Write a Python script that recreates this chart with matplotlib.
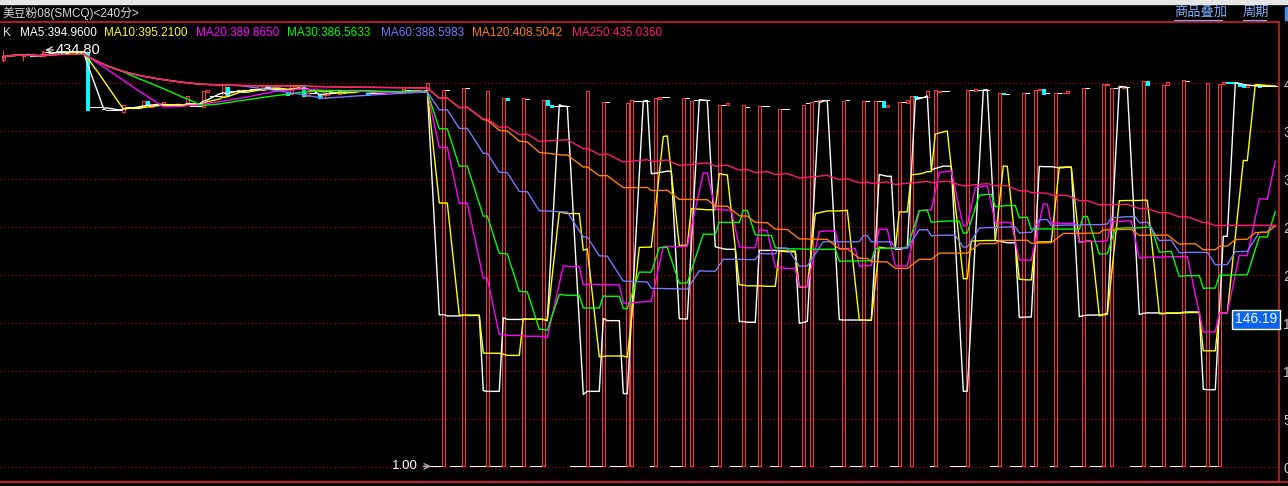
import numpy as np
import pandas as pd
import matplotlib
matplotlib.use("Agg")
import matplotlib.pyplot as plt
from matplotlib.patches import Rectangle
from matplotlib.lines import Line2D

plt.rcParams['font.family'] = ['Liberation Sans', 'Noto Sans CJK SC', 'DejaVu Sans']

# 240-minute bars (1.0 = the bad "1.00" prints)
opens = [
    424.3, 429, 430, 430, 431, 428, 430.5, 428, 428, 428,
    428.5, 433, 432.5, 433, 433, 432.5, 433, 433, 432.5, 433,
    433, 433, 375.5, 375.5, 375.5, 373, 372, 372, 372, 372,
    370.5, 375, 375, 375, 375, 376, 382, 375, 377, 377,
    378, 377, 377, 377, 377, 377, 379, 376, 376, 376,
    375.6, 391, 386.5, 386.5, 386.5, 386, 396, 392, 392, 392,
    393, 393, 394, 394, 394, 393, 398, 394, 394, 394,
    394, 391, 389, 398, 398, 398, 387, 390, 390, 389,
    385, 388, 391, 391, 389, 393, 391, 391, 393, 393,
    393, 390, 390, 390, 390, 389, 391, 391, 391, 391,
    390, 393, 391, 391, 391, 391, 393,
    1, 1, 1, 1, 392.7, 1, 1, 1, 1, 394.8,
    1, 1, 1, 1, 1, 1, 1, 1, 1, 384.7,
    1, 1, 1, 1, 384, 1, 1, 1, 1, 382.6,
    377.7, 376, 376, 376, 376, 1, 1, 1, 1, 1,
    1, 1, 1, 1, 380.5, 1, 1, 1, 1, 1,
    1, 382, 382, 382, 382, 1, 1, 384, 385.4, 385.4,
    1, 1, 1, 1, 384.7, 1, 382.3, 382.3, 382.3, 382.3,
    1, 1, 1, 377, 377, 1, 1, 1, 1, 375.6,
    1, 1, 1, 376, 376, 1, 1, 1, 373.6, 373.6,
    1, 1, 1, 1, 379.5, 1, 381.2, 381, 383, 383,
    1, 1, 1, 1, 383, 1, 1, 1, 1, 381.2,
    1, 1, 381.2, 381.2, 375.6, 1, 1, 1, 380.5, 379.5,
    1, 386.4, 385.7, 385.7, 385.7, 1, 1, 391.2, 391.6, 391.6,
    1, 1, 1, 1, 1, 392.7, 391.6, 393.3, 393.3, 393.3,
    1, 1, 1, 390, 389, 1, 1, 1, 1, 390,
    1, 1, 393, 393.7, 389.5, 1, 1, 390, 389.8, 390,
    1, 1, 1, 1, 395, 1, 1, 1, 1, 398.4,
    1, 395, 395.8, 395.5, 395.8, 1, 1, 1, 1, 402.7,
    1, 1, 1, 1, 398.3, 1, 1, 1, 1, 402.7,
    1, 1, 1, 1, 1, 1, 1, 1, 399.3, 401.5,
    401.3, 401, 400, 399, 396, 397.9, 397.9, 397.9, 397, 397,
    397, 397,
]
closes = [
    427.7, 429, 430, 430, 430, 428.5, 429.5, 428, 428, 428,
    433, 433, 432.5, 433, 433, 432.5, 433, 433, 432.5, 433,
    433, 372, 375.5, 375.5, 375.5, 373, 372, 372, 372, 372,
    377.5, 375, 375, 375, 375, 382, 378, 377, 377, 377,
    381, 377, 377, 377, 377, 377, 386.7, 376, 376, 376,
    392.3, 393, 386.5, 386.5, 386.5, 398, 388, 392, 392, 392,
    393, 393, 394, 394, 394, 398, 395, 394, 394, 394,
    394, 388, 398, 398, 398, 387, 390, 390, 390, 385,
    388, 393, 391, 391, 393, 390, 391, 391, 393, 393,
    393, 388, 390, 390, 390, 392, 391, 391, 391, 391,
    394, 393, 391, 391, 391, 391, 400,
    1, 1, 1, 393, 392.7, 1, 1, 1, 395, 394.8,
    1, 1, 1, 1, 391.6, 1, 1, 1, 384.7, 382.6,
    1, 1, 1, 384.7, 384, 1, 1, 1, 383, 377.7,
    375.6, 376, 376, 376, 376, 1, 1, 1, 1, 391.6,
    1, 1, 1, 380.5, 380.5, 1, 1, 1, 1, 379.5,
    382.3, 382, 382, 382, 382, 1, 384.7, 385.7, 385.4, 385.4,
    1, 1, 1, 384.7, 384.7, 381.2, 382.3, 382.3, 382.3, 382.3,
    1, 1, 377, 377, 379.5, 1, 1, 1, 377, 375.6,
    1, 1, 376, 376, 376, 1, 1, 373.6, 373.6, 373.6,
    1, 1, 1, 377.7, 379.5, 380.5, 381.2, 383, 383, 383,
    1, 1, 1, 381.2, 383, 1, 1, 1, 381.2, 381.2,
    1, 381.2, 381.2, 375.6, 377, 1, 1, 380.5, 380.5, 383,
    386.4, 384.7, 385.7, 385.7, 391.6, 1, 392.7, 391.8, 391.6, 391.6,
    1, 1, 1, 1, 392.7, 392.7, 393.7, 393.3, 393.3, 393.3,
    1, 1, 390, 388.5, 389, 1, 1, 1, 390, 390,
    1, 392.7, 393.6, 388.9, 389.5, 1, 390, 390, 390.3, 391.6,
    1, 1, 1, 395, 395, 1, 1, 1, 399.3, 398.9,
    395, 395, 395.8, 397, 395.8, 1, 1, 1, 402.7, 398.6,
    1, 1, 1, 398.6, 401.5, 1, 1, 1, 403.4, 402.7,
    1, 1, 1, 1, 400.3, 1, 1, 399.3, 401.5, 400.5,
    400.5, 400, 397, 396, 398, 397.9, 397.9, 396, 397, 397,
    397, 397,
]
# bars whose shadows reach past the body
wick_high = {0: 434.7, 5: 430, 6: 432, 10: 434.8, 21: 434}
wick_low = {0: 422.5, 5: 423, 6: 428}

ma_periods = [5, 10, 20, 30, 60, 120, 250]
ma_colors = ['#ffffff', '#ffff00', '#ff00ff', '#00ff00', '#7878ff', '#ff8000', '#ff1a75']
ma_header = ['MA5:394.9600', 'MA10:395.2100', 'MA20:389.8650', 'MA30:386.5633',
             'MA60:388.5983', 'MA120:408.5042', 'MA250:435.0360']
ma_header_x = [20, 104, 196, 287, 381, 472, 572]

o = np.array(opens, dtype=float)
c = np.array(closes, dtype=float)
n = len(c)
hi = np.maximum(o, c)
lo = np.minimum(o, c)
for k, v in wick_high.items():
    hi[k] = v
for k, v in wick_low.items():
    lo[k] = v
x = np.arange(n)

W, H = 1288, 486
fig = plt.figure(figsize=(W / 100, H / 100), dpi=100, facecolor='black')
ax = fig.add_axes([0, 4 / H, 1279 / W, 460 / H], facecolor='black')

red = '#ff3434'
px1 = 0.72  # one pixel in points
up = c > o
dn = c < o
flat = c == o

# wicks
wk = (hi > np.maximum(o, c)) | (lo < np.minimum(o, c))
wcol = np.where(up[wk], red, np.where(dn[wk], '#00ffff', '#ffffff'))
ax.vlines(x[wk], lo[wk], hi[wk], colors=wcol, lw=px1, zorder=2)

ax.bar(x[up], (c - o)[up], bottom=o[up], width=0.82, facecolor='none',
       edgecolor=red, linewidth=px1, zorder=2, antialiased=False)
ax.bar(x[dn], (o - c)[dn], bottom=c[dn], width=0.8, color='#00ffff',
       edgecolor='#00ffff', linewidth=px1, zorder=2, antialiased=False)
ax.hlines(c[flat], x[flat] - 0.38, x[flat] + 0.38, colors='white', lw=px1,
          zorder=2, antialiased=False)

s = pd.Series(c)
for p, col in zip(ma_periods, ma_colors):
    ax.plot(x, s.rolling(p, min_periods=1).mean(), color=col, lw=1.0, zorder=3)

# high / low markers
ax.annotate('434.80', xy=(10.4, 434.8), xytext=(13.2, 434.8), color='white',
            fontsize=10.5, va='center', ha='left', zorder=5,
            arrowprops=dict(arrowstyle='->', color='#d0d0d0', lw=1, shrinkA=0, shrinkB=0))
ax.annotate('1.00', xy=(106.9, 1), xytext=(103.6, 1), color='white',
            fontsize=9.5, va='center', ha='right', zorder=5,
            arrowprops=dict(arrowstyle='->', color='#b0b0b0', lw=1, shrinkA=2, shrinkB=0))

ax.set_xlim(-0.825, 318.925)
ax.set_ylim(-15.3, 463.9)
ax.set_xticks([])
ax.yaxis.tick_right()
ax.set_yticks(np.arange(0, 401, 50))
ax.tick_params(axis='y', length=0, pad=3, labelcolor='#c8c8d0', labelsize=10)
ax.grid(axis='y', color='#a00000', linestyle=(0, (1, 2)), lw=0.9)
ax.spines['left'].set_visible(False)
for side in ['top', 'right', 'bottom']:
    ax.spines[side].set_color('#d42020')
    ax.spines[side].set_linewidth(1.2)

# title strip
fig.patches.append(Rectangle((0, 1 - 4 / H), 1, 4 / H, transform=fig.transFigure,
                             color='#e6e6e6', zorder=0))
fig.text(3 / W, 1 - 13 / H, '美豆粉08(SMCQ)<240分>', color='#d8d8d8', fontsize=8.5,
         va='center', ha='left')
for label, px in [('商品叠加', 1174), ('周期', 1243)]:
    fig.text(px / W, 1 - 13 / H, label, color='#7fb2ff', fontsize=9.5,
             va='center', ha='left')
fig.lines.append(Line2D([1174 / W, 1222 / W], [1 - 20 / H, 1 - 20 / H],
                        transform=fig.transFigure, color='#7fb2ff', lw=0.8))
fig.lines.append(Line2D([1243 / W, 1266 / W], [1 - 20 / H, 1 - 20 / H],
                        transform=fig.transFigure, color='#7fb2ff', lw=0.8))
fig.patches.append(Rectangle((1285 / W, 1 - 20 / H), 3 / W, 13 / H,
                             transform=fig.transFigure, color='#4a90e2'))
fig.lines.append(Line2D([0, 1], [4 / H, 4 / H], transform=fig.transFigure,
                        color='#d42020', lw=1.2))

# MA header
fig.text(3 / W, 1 - 33 / H, 'K', color='#e0e0e0', fontsize=8.5, va='center')
for txt, px, col in zip(ma_header, ma_header_x, ma_colors):
    fig.text(px / W, 1 - 33 / H, txt, color=col, fontsize=8.5, va='center')

# cursor price tag
fig.text(1256 / W, 1 - 319 / H, '146.19', color='white', fontsize=10,
         ha='center', va='center',
         bbox=dict(boxstyle='square,pad=0.18', fc='#0a64f0', ec='white', lw=1))

fig.savefig('out.png', dpi=100, facecolor='black')
